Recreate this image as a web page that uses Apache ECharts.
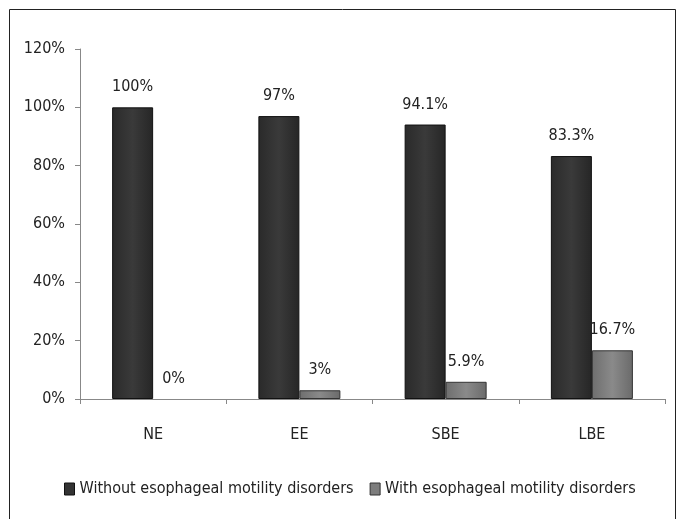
<!DOCTYPE html>
<html>
<head>
<meta charset="utf-8">
<script src="https://cdn.jsdelivr.net/npm/echarts@6/dist/echarts.min.js"></script>
<style>
html,body{margin:0;padding:0;background:#fff;}
#c{width:678px;height:519px;}
</style>
</head>
<body>
<div id="c"></div>
<script>
var categories = ['NE', 'EE', 'SBE', 'LBE'];
var withoutDisorders = [100, 97, 94.1, 83.3];
var withDisorders = [0, 3, 5.9, 16.7];
var yTicks = [0, 20, 40, 60, 80, 100, 120];
var seriesNames = ['Without esophageal motility disorders', 'With esophageal motility disorders'];

var FONT = '"DejaVu Sans Condensed", "Liberation Sans", Arial, sans-serif';
var chart = echarts.init(document.getElementById('c'));

function grad(c1, c2, c3) {
  return new echarts.graphic.LinearGradient(0, 0, 1, 0, [
    {offset: 0, color: c1}, {offset: 0.5, color: c2}, {offset: 1, color: c3}
  ]);
}

function toItems(arr) {
  return arr.map(function (v) {
    return v === 0 ? {value: v, itemStyle: {borderWidth: 0, color: 'rgba(0,0,0,0)', borderColor: 'rgba(0,0,0,0)'}} : v;
  });
}

chart.setOption({
  animation: false,
  backgroundColor: '#fff',
  graphic: [{
    type: 'rect',
    shape: {x: 9.5, y: 9.5, width: 666, height: 530},
    style: {fill: 'none', stroke: '#222', lineWidth: 1},
    silent: true
  }],
  grid: {left: 80, right: 13, top: 49, bottom: 120, containLabel: false},
  legend: {
    bottom: 17,
    left: 59,
    itemWidth: 10,
    itemHeight: 12,
    itemGap: 16,
    textStyle: {fontFamily: FONT, fontSize: 16, color: '#222'},
    data: [
      {name: seriesNames[0], icon: 'rect', itemStyle: {color: '#333', borderColor: '#111', borderWidth: 1}},
      {name: seriesNames[1], icon: 'rect', itemStyle: {color: '#7d7d7d', borderColor: '#333', borderWidth: 1}}
    ]
  },
  xAxis: {
    type: 'category',
    data: categories,
    axisLine: {lineStyle: {color: '#888', width: 1}},
    axisTick: {show: true, length: 5, alignWithLabel: false, lineStyle: {color: '#888'}},
    axisLabel: {fontFamily: FONT, fontSize: 16, color: '#222', margin: 28}
  },
  yAxis: {
    type: 'value',
    min: 0,
    max: 120,
    interval: 20,
    axisLine: {show: true, lineStyle: {color: '#888', width: 1}},
    axisTick: {show: true, length: 5, lineStyle: {color: '#888'}},
    splitLine: {show: false},
    axisLabel: {fontFamily: FONT, fontSize: 16, color: '#222', margin: 15,
      formatter: function (v) { return v + '%'; }}
  },
  series: [{
    name: seriesNames[0],
    type: 'bar',
    data: toItems(withoutDisorders),
    barWidth: 41,
    barGap: '0%',
    itemStyle: {color: grad('#2a2a2a', '#3a3a3a', '#262626'), borderColor: '#111', borderWidth: 1},
    label: {show: true, position: 'top', distance: 12, fontFamily: FONT, fontSize: 16, color: '#222',
      formatter: function (p) { return p.value + '%'; }}
  }, {
    name: seriesNames[1],
    type: 'bar',
    data: toItems(withDisorders),
    barWidth: 41,
    barGap: '0%',
    itemStyle: {color: grad('#6e6e6e', '#8a8a8a', '#6a6a6a'), borderColor: '#333', borderWidth: 1},
    label: {show: true, position: 'top', distance: 12, fontFamily: FONT, fontSize: 16, color: '#222',
      formatter: function (p) { return p.value + '%'; }}
  }]
});
</script>
</body>
</html>
